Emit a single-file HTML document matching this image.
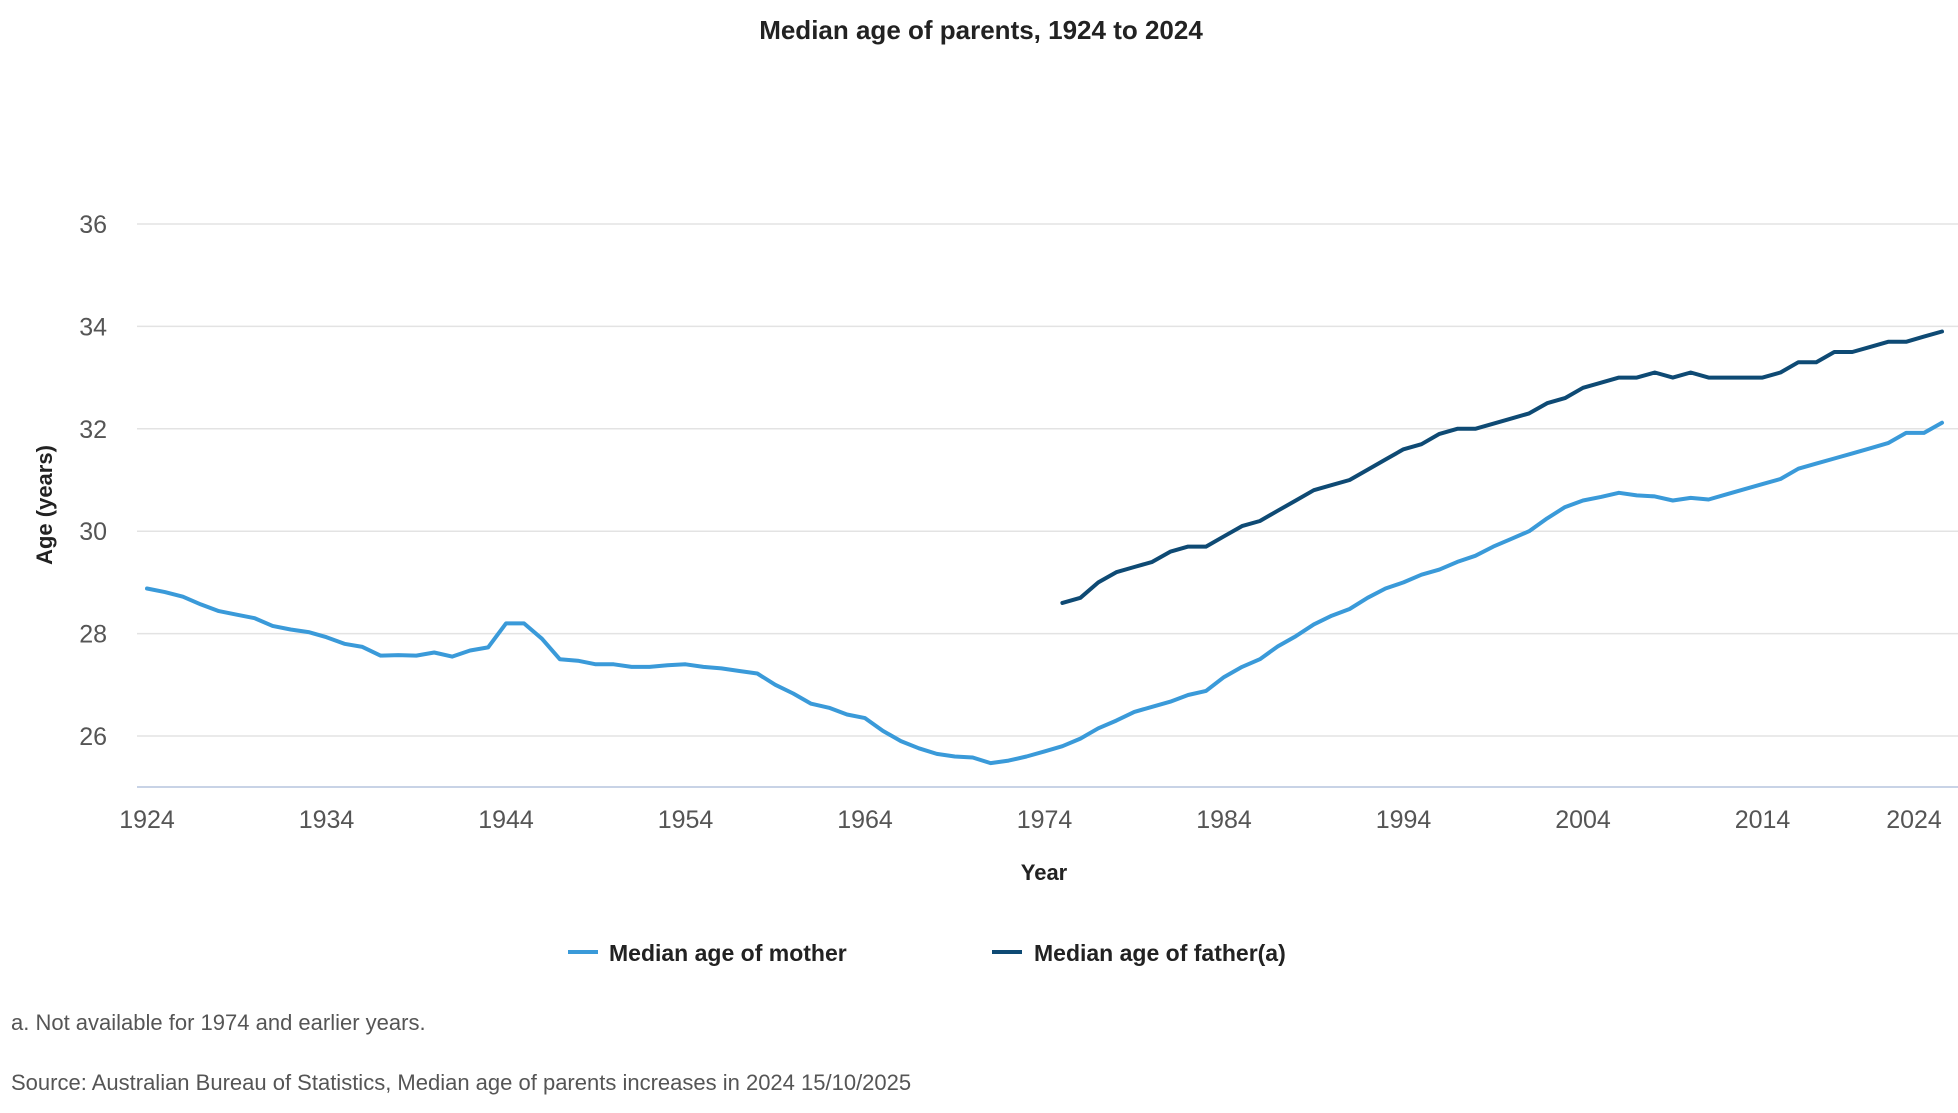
<!DOCTYPE html>
<html><head><meta charset="utf-8"><style>
html,body{margin:0;padding:0;background:#fff;width:1958px;height:1113px;overflow:hidden;font-family:"Liberation Sans",sans-serif}
</style></head><body>
<svg id="chart" width="1958" height="1113" xmlns="http://www.w3.org/2000/svg" font-family="Liberation Sans, sans-serif">
<text x="981" y="39" text-anchor="middle" font-size="26" font-weight="bold" fill="#222">Median age of parents, 1924 to 2024</text>
<g id="grid"></g>
<g id="yticks"></g>
<g id="xticks"></g>
<text transform="translate(52,505) rotate(-90)" text-anchor="middle" font-size="22" font-weight="bold" fill="#222">Age (years)</text>
<text x="1044" y="880" text-anchor="middle" font-size="22" font-weight="bold" fill="#222">Year</text>
<g id="series"></g>
<g>
<line x1="568" y1="952" x2="598" y2="952" stroke="#3a9ad9" stroke-width="4"/>
<text x="609" y="961" font-size="23" font-weight="bold" fill="#222">Median age of mother</text></g>
<g>
<line x1="992" y1="952" x2="1022" y2="952" stroke="#0e4a74" stroke-width="4"/>
<text x="1034" y="961" font-size="23" font-weight="bold" fill="#222">Median age of father(a)</text></g>
<text x="11" y="1030" font-size="22" fill="#555">a. Not available for 1974 and earlier years.</text>
<text x="11" y="1090" font-size="22" fill="#555">Source: Australian Bureau of Statistics, Median age of parents increases in 2024 15/10/2025</text>
</svg>
<script>
const yTicks=[26,28,30,32,34,36];
const xTicks=[1924,1934,1944,1954,1964,1974,1984,1994,2004,2014,2024];
const motherStart=1924;
const mother=[28.88,28.81,28.72,28.57,28.44,28.37,28.3,28.15,28.08,28.03,27.93,27.8,27.74,27.57,27.58,27.57,27.63,27.55,27.67,27.73,28.2,28.2,27.9,27.5,27.47,27.4,27.4,27.35,27.35,27.38,27.4,27.35,27.32,27.27,27.22,27.0,26.83,26.63,26.55,26.42,26.35,26.1,25.9,25.76,25.65,25.6,25.58,25.47,25.52,25.6,25.7,25.8,25.95,26.15,26.3,26.47,26.57,26.67,26.8,26.88,27.15,27.35,27.5,27.75,27.95,28.18,28.35,28.48,28.7,28.88,29.0,29.15,29.25,29.4,29.52,29.7,29.85,30.0,30.25,30.47,30.6,30.67,30.75,30.7,30.68,30.6,30.65,30.62,30.72,30.82,30.92,31.02,31.22,31.32,31.42,31.52,31.62,31.72,31.92,31.92,32.12];
const fatherStart=1975;
const father=[28.6,28.7,29.0,29.2,29.3,29.4,29.6,29.7,29.7,29.9,30.1,30.2,30.4,30.6,30.8,30.9,31.0,31.2,31.4,31.6,31.7,31.9,32.0,32.0,32.1,32.2,32.3,32.5,32.6,32.8,32.9,33.0,33.0,33.1,33.0,33.1,33.0,33.0,33.0,33.0,33.1,33.3,33.3,33.5,33.5,33.6,33.7,33.7,33.8,33.9];
const NS='http://www.w3.org/2000/svg';
const X=yr=>147+(yr-1924)*17.95;
const Y=v=>736-(v-26)*51.2;
function mk(tag,attrs,parent){const e=document.createElementNS(NS,tag);for(const k in attrs)e.setAttribute(k,attrs[k]);parent.appendChild(e);return e;}
const grid=document.getElementById('grid'),yt=document.getElementById('yticks'),xt=document.getElementById('xticks'),ser=document.getElementById('series');
yTicks.forEach(v=>{
 const l=mk('line',{x1:137,x2:1958,y1:Y(v),y2:Y(v),stroke:'#e3e3e3','stroke-width':1.5},grid);
 
 
 const t=mk('text',{x:107,y:Y(v)+9,'text-anchor':'end','font-size':25,fill:'#555'},yt);
 t.textContent=v;
 
 
});
const ax=mk('line',{x1:137,x2:1958,y1:787,y2:787,stroke:'#c8d3e6','stroke-width':2},grid);


xTicks.forEach((yr,i)=>{
 let x=X(yr); if(i===xTicks.length-1) x=Math.min(x,1914);
 const t=mk('text',{x:x,y:828,'text-anchor':'middle','font-size':25,fill:'#555'},xt);
 t.textContent=yr;
 
 
});
function line(data,start,color,name){
 const pts=data.map((v,i)=>X(start+i).toFixed(1)+','+Y(v).toFixed(1)).join(' ');
 const p=mk('polyline',{points:pts,fill:'none',stroke:color,'stroke-width':4,'stroke-linejoin':'round','stroke-linecap':'round'},ser);
 
 
}
line(mother,motherStart,'#3a9ad9','mother-line');
line(father,fatherStart,'#0e4a74','father-line');
</script>
</body></html>
